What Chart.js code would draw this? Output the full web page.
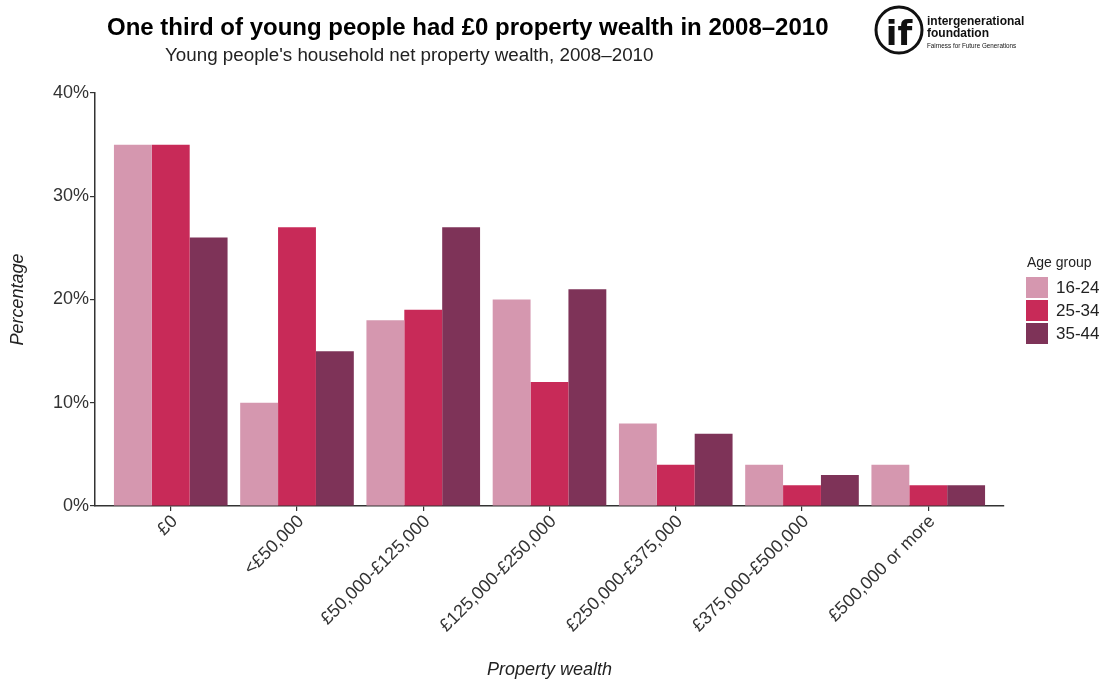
<!DOCTYPE html>
<html>
<head>
<meta charset="utf-8">
<script src="https://cdn.jsdelivr.net/npm/chart.js@4.4.0/dist/chart.umd.min.js"></script>
<style>
  html, body { margin: 0; padding: 0; background: #fff; }
  #wrap { width: 1104px; height: 679px; }
</style>
</head>
<body>
<div id="wrap"><canvas id="wealthChart" width="1104" height="679"></canvas></div>
<script>
// Property wealth bands (x categories) and share of each age group, in %
const wealthBands = ['£0', '<£50,000', '£50,000-£125,000', '£125,000-£250,000',
                     '£250,000-£375,000', '£375,000-£500,000', '£500,000 or more'];
const ageGroups = ['16-24', '25-34', '35-44'];
const share16to24 = [35, 10, 18, 20, 8, 4, 4];
const share25to34 = [35, 27, 19, 12, 4, 2, 2];
const share35to44 = [26, 15, 27, 21, 7, 3, 2];
const percentTicks = [0, 10, 20, 30, 40];

const groupColours = ['#d597af', '#c82a58', '#7e3358'];
const FONT = '"Liberation Sans", Arial, Helvetica, sans-serif';
const TEXT = '#333333';

const seriesValues = [share16to24, share25to34, share35to44];

// bars sit on a linear axis at 1..n so the panel can run 0.6 of a band past each end
const datasets = ageGroups.map((group, g) => ({
    label: group,
    data: seriesValues[g].map((v, i) => ({ x: i + 1, y: v })),
    backgroundColor: groupColours[g],
    borderWidth: 0,
    categoryPercentage: 0.9,
    barPercentage: 1.0
}));

// titles, legend and the logo are painted straight onto the canvas
const decorations = {
    id: 'decorations',
    afterDraw(chart) {
        const ctx = chart.ctx;
        ctx.save();

        ctx.fillStyle = '#000';
        ctx.textBaseline = 'alphabetic';
        ctx.textAlign = 'left';
        ctx.font = 'bold 24px ' + FONT;
        ctx.fillText('One third of young people had £0 property wealth in 2008–2010', 107, 35);
        ctx.fillStyle = '#222';
        ctx.font = '18.8px ' + FONT;
        ctx.fillText("Young people's household net property wealth, 2008–2010", 165, 61);

        // legend
        ctx.fillStyle = '#222';
        ctx.font = '14px ' + FONT;
        ctx.textBaseline = 'middle';
        ctx.fillText('Age group', 1027, 263);
        chart.data.datasets.forEach((ds, i) => {
            const top = 277 + i * 23;
            ctx.fillStyle = ds.backgroundColor;
            ctx.fillRect(1026, top, 22, 21);
            ctx.fillStyle = '#222';
            ctx.font = '17px ' + FONT;
            ctx.fillText(ds.label, 1056, top + 11);
        });

        // intergenerational foundation logo
        ctx.strokeStyle = '#111';
        ctx.lineWidth = 3;
        ctx.beginPath();
        ctx.arc(899, 30, 23, 0, Math.PI * 2);
        ctx.stroke();
        ctx.fillStyle = '#111';
        ctx.textAlign = 'center';
        ctx.textBaseline = 'alphabetic';
        ctx.font = 'bold 34px "DejaVu Sans", sans-serif';
        ctx.fillText('if', 899, 45);
        ctx.textAlign = 'left';
        ctx.font = '600 12px ' + FONT;
        ctx.fillText('intergenerational', 927, 25);
        ctx.fillText('foundation', 927, 37);
        ctx.font = '6.3px ' + FONT;
        ctx.fillText('Fairness for Future Generations', 927, 48);

        ctx.restore();
    }
};

new Chart(document.getElementById('wealthChart'), {
    type: 'bar',
    data: { datasets: datasets },
    options: {
        responsive: false,
        animation: false,
        devicePixelRatio: 1,
        layout: { padding: { top: 93, right: 100, left: 0, bottom: 0 } },
        plugins: {
            legend: { display: false },
            tooltip: { enabled: false }
        },
        scales: {
            x: {
                type: 'linear',
                min: 0.4,
                max: 7.6,
                offset: false,
                afterBuildTicks: scale => {
                    scale.ticks = wealthBands.map((_, i) => ({ value: i + 1 }));
                },
                afterFit: scale => { scale.height = 173; },
                ticks: {
                    autoSkip: false,
                    minRotation: 45,
                    maxRotation: 45,
                    padding: 0,
                    labelOffset: 4,
                    color: TEXT,
                    font: { family: FONT, size: 18 },
                    callback: v => wealthBands[v - 1]
                },
                grid: {
                    offset: false,
                    drawOnChartArea: false,
                    drawTicks: true,
                    tickLength: 5,
                    color: '#333',
                    lineWidth: 1.2
                },
                border: { display: true, color: '#333', width: 1.5 },
                title: {
                    display: true,
                    text: 'Property wealth',
                    color: '#222',
                    padding: { top: 0, bottom: 0 },
                    font: { family: FONT, size: 18, style: 'italic', lineHeight: 1 }
                }
            },
            y: {
                min: 0,
                max: 40,
                afterBuildTicks: scale => {
                    scale.ticks = percentTicks.map(v => ({ value: v }));
                },
                afterFit: scale => { scale.width = 95; },
                ticks: {
                    padding: 1,
                    color: TEXT,
                    font: { family: FONT, size: 18 },
                    callback: v => v + '%'
                },
                grid: {
                    drawOnChartArea: false,
                    drawTicks: true,
                    tickLength: 5,
                    color: '#333',
                    lineWidth: 1.2
                },
                border: { display: true, color: '#333', width: 1.5 },
                title: {
                    display: true,
                    text: 'Percentage',
                    color: '#222',
                    padding: { top: 9, bottom: 0 },
                    font: { family: FONT, size: 18, style: 'italic', lineHeight: 1 }
                }
            }
        }
    },
    plugins: [decorations]
});
</script>
</body>
</html>
